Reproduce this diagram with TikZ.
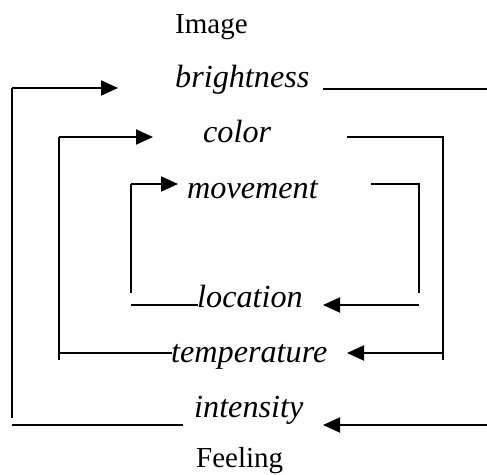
\documentclass[tikz,border=0pt]{standalone}
\usepackage{fontspec}
\setmainfont{Liberation Serif}
\usetikzlibrary{arrows.meta}
\begin{document}
\begin{tikzpicture}[x=1pt,y=-1pt,
  lbl/.style={anchor=base west,inner sep=0pt,font=\fontsize{32.2}{32}\selectfont\itshape},
  ttl/.style={anchor=base west,inner sep=0pt,font=\fontsize{29}{29}\selectfont},
  ln/.style={line width=1.9pt},
  arr/.style={ln,-{Triangle[length=17pt,width=15pt]}}]
\useasboundingbox (0,0) rectangle (487,474);
% texts
\node[ttl] (image) at (175,33) {Image};
\node[lbl] (bright) at (175,87) {brightness};
\node[lbl] (color) at (203,142) {color};
\node[lbl] (move) at (187,198) {movement};
\node[lbl] (loc) at (197,307) {location};
\node[lbl] (temp) at (171,362) {temperature};
\node[lbl] (inten) at (194,417) {intensity};
\node[ttl] (feel) at (196,467) {Feeling};
% outer loop
\coordinate (o1) at (183,425);
\coordinate (o2) at (12,425);
\coordinate (o3) at (12,418);
\coordinate (o4) at (12,88);
\coordinate (o5) at (118,88);
\coordinate (o6) at (323,89);
\coordinate (o7) at (487,89);
\coordinate (o8) at (487,425);
\coordinate (o9) at (323,425);
\draw[ln] (o1) -- (o2);
\draw[ln] (o3) -- (o4);
\draw[arr] (o4) -- (o5);
\draw[ln] (o6) -- (o7);
\draw[arr] (o8) -- (o9);
% middle loop
\coordinate (m1) at (59,360);
\coordinate (m2) at (59,137);
\coordinate (m3) at (153,137);
\coordinate (m4) at (59,353);
\coordinate (m5) at (172,353);
\coordinate (m6) at (347,137);
\coordinate (m7) at (443,137);
\coordinate (m8) at (443,360);
\coordinate (m9) at (443,353);
\coordinate (m10) at (347,353);
\draw[ln] (m1) -- (m2);
\draw[arr] (m2) -- (m3);
\draw[ln] (m4) -- (m5);
\draw[ln] (m6) -- (m7) -- (m8);
\draw[arr] (m9) -- (m10);
% inner loop
\coordinate (i1) at (131,293);
\coordinate (i2) at (131,184);
\coordinate (i3) at (178,184);
\coordinate (i4) at (371,184);
\coordinate (i5) at (419,184);
\coordinate (i6) at (419,293);
\coordinate (i7) at (131,305);
\coordinate (i8) at (198,305);
\coordinate (i9) at (419,305);
\coordinate (i10) at (323,305);
\draw[ln] (i1) -- (i2);
\draw[arr] (i2) -- (i3);
\draw[ln] (i4) -- (i5) -- (i6);
\draw[ln] (i7) -- (i8);
\draw[arr] (i9) -- (i10);
\end{tikzpicture}
\end{document}
